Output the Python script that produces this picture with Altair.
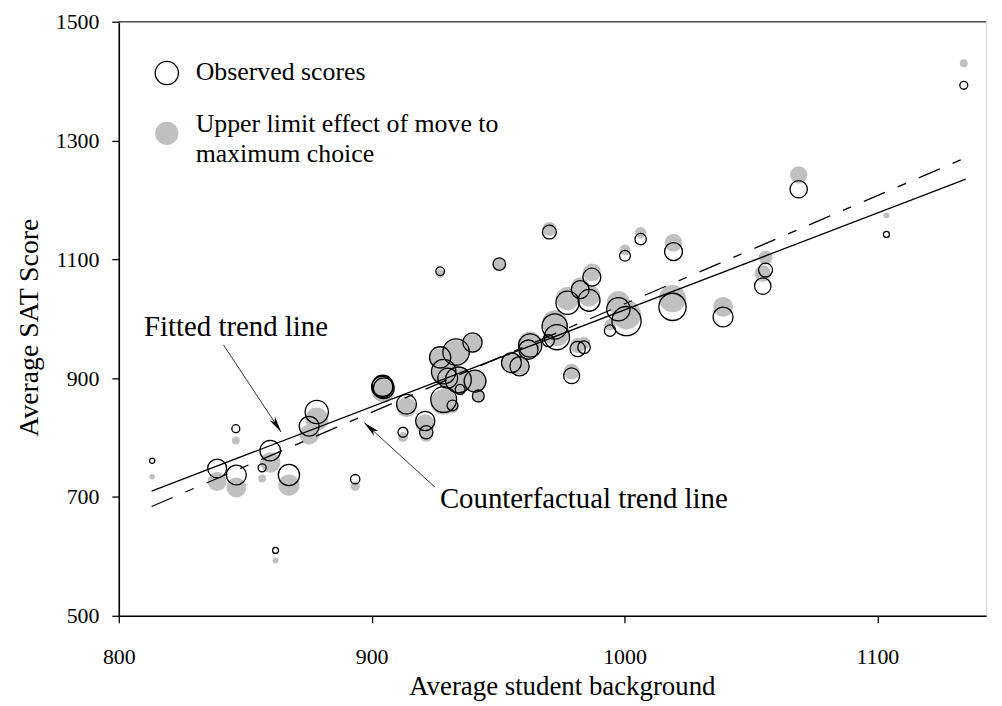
import altair as alt
import pandas as pd

# ---- data ----
school_x = [813.2, 846.3, 838.9, 846.5, 856.7, 859.9, 867.3, 862.0, 875.3, 878.3,
            893.5, 912.4, 913.8, 904.2, 904.8, 904.4, 921.2, 921.6, 928.5, 932.0,
            927.1, 933.4, 939.9, 928.5, 930.1, 934.3, 935.0, 940.9, 942.2, 927.1,
            950.5, 970.3, 1000.2, 1006.4, 1019.4, 987.1, 982.5, 986.0, 977.5, 997.6,
            1000.8, 994.3, 972.4, 973.3, 969.9, 962.7, 962.0, 955.3, 958.5, 981.5,
            984.0, 979.1, 1019.0, 1039.0, 1055.8, 1054.7, 1068.9, 1103.6, 1134.2]
observed_sat = [761, 815, 748, 737, 749, 778, 737, 610, 819, 843,
                730, 809, 856, 885, 883, 887, 828, 809, 864, 854,
                935, 944, 960, 911, 900, 897, 881, 895, 870, 1080,
                1092, 1146, 1106, 1134, 1113, 1070, 1049, 1031, 1027, 1016,
                996, 980, 987, 969, 963, 955, 948, 926, 920, 949,
                952, 904, 1020, 1003, 1082, 1055, 1218, 1142, 1393]
counterfactual_sat = [734, 795, 726, 716, 731, 758, 720, 593, 805, 831,
                      718, 801, 851, 878, 877, 881, 823, 804, 860, 850,
                      932, 942, 958, 908, 897, 895, 879, 894, 869, 1076,
                      1092, 1151, 1116, 1145, 1128, 1078, 1055, 1039, 1034, 1027,
                      1007, 990, 993, 975, 968, 959, 951, 928, 922, 955,
                      959, 911, 1034, 1020, 1103, 1076, 1242, 1174, 1430]
enrollment = [73, 160, 900, 1000, 160, 1060, 1145, 90, 1000, 1370,
              220, 250, 1000, 1145, 1100, 1145, 940, 450, 1690, 300,
              1145, 1770, 940, 1510, 1000, 1690, 250, 1210, 360, 185,
              400, 490, 300, 325, 810, 810, 810, 1210, 1370, 1370,
              2160, 325, 1610, 1610, 360, 1370, 940, 1000, 940, 590,
              400, 640, 1880, 1000, 490, 690, 760, 90, 160]

trend_x = [813, 1135]
fitted_y = [710, 1235]
counterfactual_trend_y = [684, 1271]

labels_text = ["Fitted trend line", "Counterfactual trend line"]
labels_x = [810, 927]
labels_y = [986, 697]

legend_text = ["Observed scores", "Upper limit effect of move to", "maximum choice"]
legend_text_x = [830.4, 830.4, 830.4]
legend_text_y = [1416, 1328, 1277]
legend_sym_x = [819, 819]
legend_sym_y = [1413.5, 1312]

arrow_x = [841.4, 925.0]
arrow_y = [956, 716.7]
arrow_tip_x = [864.2, 897.1]
arrow_tip_y = [809.3, 825.0]
arrow_angle = [146.5, 312.2]

FONT = "Liberation Serif"
GRAY = "#c0c0c0"

pts = pd.DataFrame({"x": school_x, "y": observed_sat, "cf": counterfactual_sat, "w": enrollment})
trend = pd.DataFrame({"x": trend_x, "fit": fitted_y, "cf": counterfactual_trend_y})
labels = pd.DataFrame({"x": labels_x, "y": labels_y, "t": labels_text})
leg_text = pd.DataFrame({"x": legend_text_x, "y": legend_text_y, "t": legend_text})
leg_open = pd.DataFrame({"x": legend_sym_x[:1], "y": legend_sym_y[:1]})
leg_gray = pd.DataFrame({"x": legend_sym_x[1:], "y": legend_sym_y[1:]})
arrows = pd.DataFrame({"x": arrow_x, "y": arrow_y, "x2": arrow_tip_x, "y2": arrow_tip_y,
                       "a": arrow_angle})
frame = pd.DataFrame({"x": [800], "x2": [1143], "y": [1500]})

xs = alt.Scale(domain=[800, 1143], nice=False, zero=False)
ys = alt.Scale(domain=[500, 1500], nice=False, zero=False)
ss = alt.Scale(domain=[0, 2500], range=[0, 1000], zero=True)

xaxis = alt.Axis(values=[800, 900, 1000, 1100], format="d", grid=False,
                 labelFont=FONT, labelFontSize=22, labelColor="black", labelPadding=24,
                 tickColor="black", tickSize=7, tickWidth=1.3,
                 domainColor="black", domainWidth=1.6,
                 titleFont=FONT, titleFontSize=27, titleFontWeight="normal", titleColor="black",
                 titleX=446, titleY=71, titleBaseline="middle", labelFlush=False)
yaxis = alt.Axis(values=[500, 700, 900, 1100, 1300, 1500], format="d", grid=False,
                 labelFont=FONT, labelFontSize=22, labelColor="black", labelPadding=13,
                 tickColor="black", tickSize=7, tickWidth=1.3,
                 domainColor="black", domainWidth=1.6,
                 titleFont=FONT, titleFontSize=28, titleFontWeight="normal", titleColor="black",
                 titleX=-89.5, titleY=307.5, titleBaseline="middle", titleAngle=270,
                 labelFlush=False)


def X(f="x"):
    return alt.X(f"{f}:Q", scale=xs, axis=xaxis, title="Average student background")


def Y(f="y"):
    return alt.Y(f"{f}:Q", scale=ys, axis=yaxis, title="Average SAT Score")


gray_pts = alt.Chart(pts).mark_circle(color=GRAY, opacity=1).encode(
    x=X(), y=Y("cf"), size=alt.Size("w:Q", scale=ss, legend=None))
open_pts = alt.Chart(pts).mark_point(shape="circle", filled=False, color="black",
                                     strokeWidth=1.3, opacity=1).encode(
    x=X(), y=Y(), size=alt.Size("w:Q", scale=ss, legend=None))

fit_line = alt.Chart(trend).mark_line(color="black", strokeWidth=1.3).encode(x=X(), y=Y("fit"))
cf_line = alt.Chart(trend).mark_line(color="black", strokeWidth=1.3,
                                     strokeDash=[23, 14, 9, 14]).encode(x=X(), y=Y("cf"))

arrow_lines = alt.Chart(arrows).mark_rule(color="#333333", strokeWidth=1).encode(
    x=X(), y=Y(), x2="x2:Q", y2="y2:Q")
arrow_heads = alt.Chart(arrows).mark_point(
    shape="M0,0 L0.42,2 L0,1.5 L-0.42,2 Z", filled=True, color="black", size=256, opacity=1
).encode(x=X("x2"), y=Y("y2"), angle=alt.Angle("a:Q", scale=None))

label_marks = alt.Chart(labels).mark_text(align="left", baseline="middle", font=FONT,
                                          fontSize=29, color="black").encode(
    x=X(), y=Y(), text="t:N")
legend_marks = alt.Chart(leg_text).mark_text(align="left", baseline="middle", font=FONT,
                                             fontSize=26, color="black").encode(
    x=X(), y=Y(), text="t:N")
legend_open = alt.Chart(leg_open).mark_point(shape="circle", filled=False, color="black",
                                             strokeWidth=1.3, size=548, opacity=1).encode(x=X(), y=Y())
legend_gray = alt.Chart(leg_gray).mark_circle(color=GRAY, size=548, opacity=1).encode(x=X(), y=Y())

top_rule = alt.Chart(frame).mark_rule(color="#555555", strokeWidth=1.6).encode(
    x=X(), x2="x2:Q", y=Y())

chart = alt.layer(
    gray_pts, open_pts, fit_line, cf_line, arrow_lines, arrow_heads,
    label_marks, legend_gray, legend_open, legend_marks, top_rule
).properties(
    width=873, height=598,
    autosize=alt.AutoSizeParams(type="none"),
    padding={"left": 111.5, "top": 11.5, "right": 8, "bottom": 86},
).configure_view(stroke=None).configure(background="white")

chart.save("out.html", embed_options={"renderer": "svg", "actions": False})
